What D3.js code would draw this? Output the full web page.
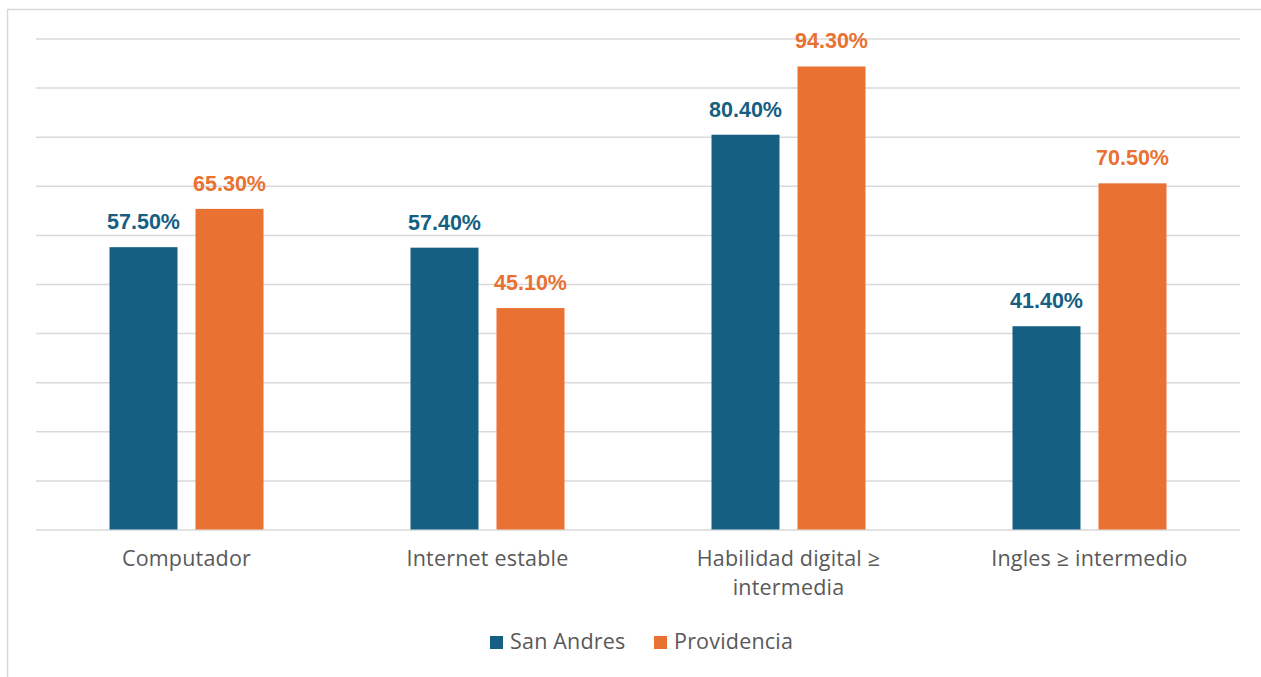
<!DOCTYPE html>
<html>
<head>
<meta charset="utf-8">
<script src="https://cdn.jsdelivr.net/npm/d3@7/dist/d3.min.js"></script>
<style>
  html, body { margin: 0; padding: 0; background: #fff; }
  svg { display: block; }
</style>
</head>
<body>
<svg id="chart" width="1261" height="677"></svg>
<script>
// Categories (each label split into display lines)
const categories = ["Computador", "Internet estable", "Habilidad digital ≥ intermedia", "Ingles ≥ intermedio"];
const categoryLines = [["Computador"], ["Internet estable"], ["Habilidad digital ≥", "intermedia"], ["Ingles ≥ intermedio"]];
const seriesNames = ["San Andres", "Providencia"];
const sanAndres = [57.5, 57.4, 80.4, 41.4];
const providencia = [65.3, 45.1, 94.3, 70.5];
const gridTicks = [0, 10, 20, 30, 40, 50, 60, 70, 80, 90, 100];
const colors = ["#156082", "#E97132"];

const series = [sanAndres, providencia];

const svg = d3.select("#chart");
const labelFont = "'Open Sans', 'Noto Sans', sans-serif";

// Outer chart frame
svg.append("rect")
  .attr("x", 7.5).attr("y", 9.5)
  .attr("width", 1300).attr("height", 700)
  .attr("fill", "none").attr("stroke", "#d9d9d9").attr("stroke-width", 1.5);

const plot = { left: 36, right: 1240, top: 38.5, bottom: 529.5 };

const x0 = d3.scaleBand().domain(categories).range([plot.left, plot.right]);
const y = d3.scaleLinear().domain([0, 100]).range([plot.bottom, plot.top]);

const barW = 68, gap = 18;
const x1 = d3.scaleOrdinal().domain(seriesNames)
  .range([-(gap / 2 + barW), gap / 2]);

// Horizontal gridlines
svg.append("g")
  .attr("transform", `translate(${plot.left},0)`)
  .call(d3.axisLeft(y).tickValues(gridTicks).tickSize(-(plot.right - plot.left)).tickFormat(""))
  .call(g => g.select(".domain").remove())
  .call(g => g.selectAll(".tick line").attr("stroke", "#d9d9d9").attr("stroke-width", 1.5));

// Bars and value labels
seriesNames.forEach((name, si) => {
  const g = svg.append("g");
  categories.forEach((cat, ci) => {
    const v = series[si][ci];
    const cx = x0(cat) + x0.bandwidth() / 2;
    const bx = cx + x1(name);
    g.append("rect")
      .attr("x", bx).attr("y", y(v))
      .attr("width", barW).attr("height", y(0) - y(v))
      .attr("fill", colors[si]);
    g.append("text")
      .attr("x", bx + barW / 2).attr("y", y(v) - 18)
      .attr("text-anchor", "middle")
      .attr("font-family", "'Liberation Sans', Arial, sans-serif")
      .attr("font-weight", "bold")
      .attr("font-size", 21.5)
      .attr("fill", colors[si])
      .text(v.toFixed(2) + "%");
  });
});

// Category labels
categories.forEach((cat, ci) => {
  const cx = x0(cat) + x0.bandwidth() / 2;
  const t = svg.append("text")
    .attr("text-anchor", "middle")
    .attr("font-family", labelFont)
    .attr("font-size", 21.5)
    .attr("letter-spacing", 0.2)
    .attr("fill", "#595959");
  categoryLines[ci].forEach((line, li) => {
    t.append("tspan").attr("x", cx).attr("y", 566 + li * 29).text(line);
  });
});

// Legend
const legendItems = [{ x: 490, tx: 510 }, { x: 654, tx: 674 }];
seriesNames.forEach((name, si) => {
  svg.append("rect")
    .attr("x", legendItems[si].x).attr("y", 636)
    .attr("width", 13).attr("height", 13)
    .attr("fill", colors[si]);
  svg.append("text")
    .attr("x", legendItems[si].tx).attr("y", 649)
    .attr("font-family", labelFont)
    .attr("font-size", 21.5)
    .attr("letter-spacing", 0.2)
    .attr("fill", "#595959")
    .text(name);
});
</script>
</body>
</html>
